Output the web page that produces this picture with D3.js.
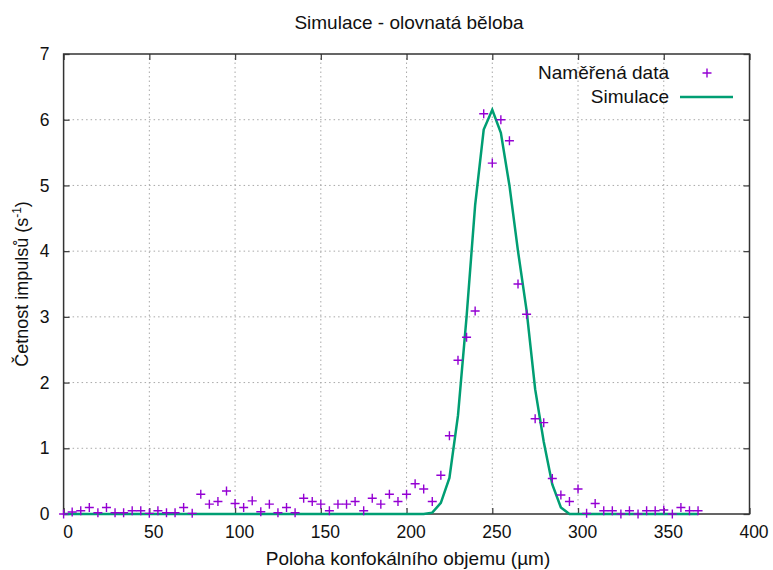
<!DOCTYPE html>
<html>
<head>
<meta charset="utf-8">
<script src="https://cdn.jsdelivr.net/npm/d3@7"></script>
<style>
  body { margin: 0; background: #fff; }
  text { font-family: "Liberation Sans", Arial, sans-serif; fill: #111; }
</style>
</head>
<body>
<div id="chart"></div>
<script>
// measured data (x in µm, counts per second)
const measX = [0, 5, 10, 15, 20, 25, 30, 35, 40, 45, 50, 55, 60, 65, 70, 75, 80, 85, 90, 95,
  100, 105, 110, 115, 120, 125, 130, 135, 140, 145, 150, 155, 160, 165, 170, 175, 180, 185, 190, 195,
  200, 205, 210, 215, 220, 225, 230, 235, 240, 245, 250, 255, 260, 265, 270, 275, 280, 285, 290, 295,
  300, 305, 310, 315, 320, 325, 330, 335, 340, 345, 350, 355, 360, 365, 370];
const measY = [0.0, 0.03, 0.05, 0.1, 0.02, 0.1, 0.02, 0.02, 0.05, 0.05, 0.01, 0.05, 0.02, 0.02, 0.1, 0.01, 0.3, 0.15, 0.19, 0.35,
  0.16, 0.1, 0.2, 0.035, 0.15, 0.02, 0.1, 0.02, 0.24, 0.19, 0.15, 0.05, 0.15, 0.15, 0.19, 0.05, 0.24, 0.15, 0.3, 0.19,
  0.3, 0.46, 0.38, 0.19, 0.59, 1.19, 2.34, 2.69, 3.09, 6.09, 5.34, 6.0, 5.68, 3.5, 3.04, 1.45, 1.39, 0.54, 0.29, 0.19,
  0.38, 0.01, 0.16, 0.05, 0.05, 0.0, 0.05, 0.0, 0.05, 0.05, 0.06, 0.0, 0.1, 0.05, 0.05];

// simulation
const simX = [0, 210, 215, 220, 225, 230, 235, 240, 245, 250, 255, 260, 265, 270, 275, 280, 285, 290, 295, 370];
const simY = [0, 0, 0.02, 0.17, 0.55, 1.5, 3.0, 4.7, 5.85, 6.15, 5.8, 5.0, 4.0, 3.1, 1.9, 1.1, 0.45, 0.1, 0, 0];

const xTicks = [0, 50, 100, 150, 200, 250, 300, 350, 400];
const yTicks = [0, 1, 2, 3, 4, 5, 6, 7];

const width = 773, height = 570;
const margin = { top: 54, right: 23.5, bottom: 56, left: 63.6 };
const purple = '#9400d3';
const green = '#009e73';

const svg = d3.select('#chart').append('svg')
  .attr('width', width)
  .attr('height', height);

const x = d3.scaleLinear().domain([0, 400]).range([margin.left, width - margin.right]);
const y = d3.scaleLinear().domain([0, 7]).range([height - margin.bottom, margin.top]);

// grid
const grid = svg.append('g').attr('class', 'grid')
  .attr('stroke', '#a8a8a8').attr('stroke-width', 1).attr('stroke-dasharray', '1.5,3');
grid.selectAll('.gx').data(xTicks.slice(1, -1)).enter().append('line')
  .attr('x1', d => x(d)).attr('x2', d => x(d))
  .attr('y1', y(0)).attr('y2', y(7));
grid.selectAll('.gy').data(yTicks.slice(1, -1)).enter().append('line')
  .attr('x1', x(0)).attr('x2', x(400))
  .attr('y1', d => y(d)).attr('y2', d => y(d));

// axes (ticks inward, mirrored)
const tick = 6;
const fmt = d3.format('d');
const axisStyle = g => {
  g.select('.domain').remove();
  g.selectAll('line').attr('stroke', '#444').attr('stroke-width', 1.3);
  g.selectAll('text').style('font-size', '17.5px').attr('fill', '#111');
};
svg.append('g')
  .attr('transform', `translate(0,${y(0)})`)
  .call(d3.axisBottom(x).tickValues(xTicks).tickSize(-tick).tickPadding(12).tickFormat(fmt))
  .call(axisStyle)
  .selectAll('text').attr('dx', 4);
svg.append('g')
  .attr('transform', `translate(0,${y(7)})`)
  .call(d3.axisTop(x).tickValues(xTicks).tickSize(-tick).tickFormat(''))
  .call(axisStyle);
svg.append('g')
  .attr('transform', `translate(${x(0)},0)`)
  .call(d3.axisLeft(y).tickValues(yTicks).tickSize(-tick).tickPadding(14).tickFormat(fmt))
  .call(axisStyle);
svg.append('g')
  .attr('transform', `translate(${x(400)},0)`)
  .call(d3.axisRight(y).tickValues(yTicks).tickSize(-tick).tickFormat(''))
  .call(axisStyle);

// border
svg.append('rect')
  .attr('x', x(0)).attr('y', y(7))
  .attr('width', x(400) - x(0)).attr('height', y(0) - y(7))
  .attr('fill', 'none').attr('stroke', '#333').attr('stroke-width', 1.5);

// simulation line
const line = d3.line().x((d, i) => x(simX[i])).y(d => y(d));
svg.append('path')
  .datum(simY)
  .attr('fill', 'none')
  .attr('stroke', green)
  .attr('stroke-width', 2.5)
  .attr('d', line);

// measured points as "+"
const r = 4.5;
const pts = svg.append('g').attr('stroke', purple).attr('stroke-width', 1.4);
measY.forEach((v, i) => {
  const cx = x(measX[i]), cy = y(v);
  pts.append('path').attr('d', `M${cx - r},${cy}H${cx + r}M${cx},${cy - r}V${cy + r}`);
});

// legend
const legend = svg.append('g');
legend.append('text').attr('x', 669).attr('y', 79).attr('text-anchor', 'end')
  .style('font-size', '19px').text('Naměřená data');
legend.append('path').attr('stroke', purple).attr('stroke-width', 1.4)
  .attr('d', `M${707 - r},73H${707 + r}M707,${73 - r}V${73 + r}`);
legend.append('text').attr('x', 669).attr('y', 103).attr('text-anchor', 'end')
  .style('font-size', '19px').text('Simulace');
legend.append('line').attr('x1', 680).attr('x2', 733).attr('y1', 97).attr('y2', 97)
  .attr('stroke', green).attr('stroke-width', 2.5);

// title and axis labels
svg.append('text').attr('x', 409).attr('y', 29).attr('text-anchor', 'middle')
  .style('font-size', '19px').text('Simulace - olovnatá běloba');
svg.append('text').attr('x', 408).attr('y', 565).attr('text-anchor', 'middle')
  .style('font-size', '19px').text('Poloha konfokálního objemu (µm)');
const yl = svg.append('text')
  .attr('transform', `translate(28,${y(3.5)}) rotate(-90)`)
  .attr('text-anchor', 'middle')
  .style('font-size', '18px');
yl.append('tspan').text('Četnost impulsů (s');
yl.append('tspan').attr('dy', -7).style('font-size', '12px').text('-1');
yl.append('tspan').attr('dy', 7).text(')');
</script>
</body>
</html>
